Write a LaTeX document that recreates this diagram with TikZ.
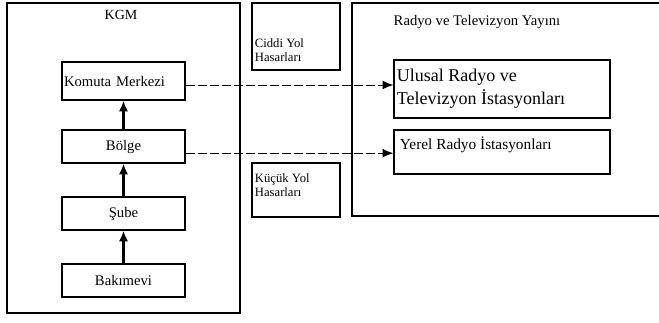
\documentclass[tikz,border=0pt]{standalone}
\usepackage{fontspec}
\setmainfont{Liberation Serif}
\usetikzlibrary{arrows.meta}
\begin{document}
\begin{tikzpicture}[x=0.75pt, y=-0.75pt,
        box/.style = {draw, line width=1pt, inner sep=0pt},
        up/.style = {-{Latex[length=8pt, width=7pt]}, line width=2pt},
        link/.style = {-{Latex[length=8pt, width=6.5pt]}, dash pattern=on 7pt off 2pt, line width=0.7pt}]
    \useasboundingbox (0,0) rectangle (659,322);

    % KGM
    \node[box, minimum width=233*0.75pt, minimum height=310*0.75pt] (kgm) at (123.5,158) {};
    \node (kgmlbl) at (121,15) {\fontsize{10.5}{12}\selectfont KGM};
    \node[box, minimum width=123*0.75pt, minimum height=38*0.75pt, text width=119*0.75pt, align=left, font=\fontsize{11}{12}\selectfont] (komuta) at (123.5,81) {Komuta Merkezi};
    \node[box, minimum width=123*0.75pt, minimum height=33*0.75pt, font=\fontsize{11}{12}\selectfont] (bolge) at (123.5,146.5) {Bölge};
    \node[box, minimum width=123*0.75pt, minimum height=33*0.75pt, font=\fontsize{11}{12}\selectfont] (sube) at (123.5,213.5) {Şube};
    \node[box, minimum width=123*0.75pt, minimum height=33*0.75pt, font=\fontsize{11}{12}\selectfont] (bakimevi) at (123.5,280.5) {Bakımevi};

    \draw[up] (bakimevi.north) -- (sube.south);
    \draw[up] (sube.north) -- (bolge.south);
    \draw[up] (bolge.north) -- (komuta.south);

    % hasarlar
    \node[box, minimum width=88*0.75pt, minimum height=67*0.75pt] (ciddi) at (296,36.5) {};
    \node[anchor=west, align=left, inner sep=2pt, font=\fontsize{9.5}{11}\selectfont] (ciddilbl) at (252,50) {Ciddi Yol\\Hasarları};
    \node[box, minimum width=88*0.75pt, minimum height=54*0.75pt] (kucuk) at (296,190) {};
    \node[anchor=west, align=left, inner sep=2pt, font=\fontsize{9.5}{11}\selectfont] (kucuklbl) at (252,185) {Küçük Yol\\Hasarları};

    % yayin
    \draw[line width=1pt] (659,3) -- (352,3) -- (352,216) -- (659,216);
    \node (yayin) at (477,22) {\fontsize{11}{13}\selectfont Radyo ve Televizyon Yayını};
    \node[box, minimum width=216*0.75pt, minimum height=58*0.75pt] (ulusal) at (502,89) {};
    \node[anchor=west, align=left, inner sep=2pt, font=\fontsize{13.5}{17}\selectfont] (ulusallbl) at (394,89) {Ulusal Radyo ve\\Televizyon İstasyonları};
    \node[box, minimum width=216*0.75pt, minimum height=44*0.75pt] (yerel) at (502,152) {};
    \node[anchor=north west, inner sep=2pt, font=\fontsize{11.5}{13}\selectfont] (yerellbl) at (397,134) {Yerel Radyo İstasyonları};

    \draw[link] ([yshift=-3pt]komuta.east) -- ([yshift=-3pt]komuta.east -| ulusal.west);
    \draw[link] ([yshift=-5pt]bolge.east) -- ([yshift=-5pt]bolge.east -| yerel.west);
\end{tikzpicture}
\end{document}
